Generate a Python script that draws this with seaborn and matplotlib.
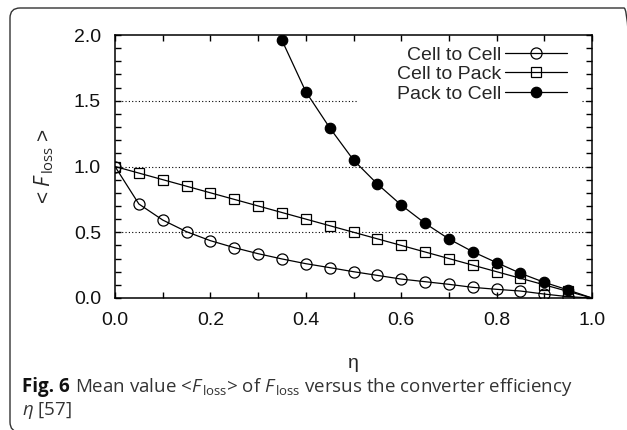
import matplotlib
matplotlib.use("Agg")
import matplotlib.pyplot as plt
from matplotlib.ticker import MultipleLocator, FormatStrFormatter
from matplotlib.patches import FancyBboxPatch
from matplotlib.transforms import IdentityTransform
import seaborn as sns

# efficiency values (last point eta = 1.0 is drawn without marker)
eta = [0.0, 0.05, 0.1, 0.15, 0.2, 0.25, 0.3, 0.35, 0.4, 0.45, 0.5,
       0.55, 0.6, 0.65, 0.7, 0.75, 0.8, 0.85, 0.9, 0.95, 1.0]
cell_to_cell = [1.0, 0.715, 0.593, 0.504, 0.436, 0.383, 0.337, 0.297, 0.261, 0.231, 0.2,
                0.172, 0.144, 0.124, 0.104, 0.081, 0.066, 0.053, 0.03, 0.01, 0.0]
cell_to_pack = [1.0, 0.95, 0.9, 0.85, 0.8, 0.75, 0.7, 0.65, 0.6, 0.55, 0.5,
                0.45, 0.4, 0.35, 0.3, 0.25, 0.2, 0.15, 0.1, 0.05, 0.0]
eta_pc = [0.35, 0.4, 0.45, 0.5, 0.55, 0.6, 0.65, 0.7, 0.75, 0.8, 0.85, 0.9, 0.95, 1.0]
pack_to_cell = [1.96, 1.569, 1.295, 1.049, 0.867, 0.707, 0.568, 0.449, 0.352, 0.269,
                0.188, 0.119, 0.061, 0.0]

labels = ["Cell to Cell", "Cell to Pack", "Pack to Cell"]

sns.set_style("ticks")
plt.rcParams["font.family"] = ["Liberation Sans", "DejaVu Sans"]
plt.rcParams["mathtext.fontset"] = "custom"
plt.rcParams["mathtext.rm"] = "Open Sans"
plt.rcParams["mathtext.it"] = "Open Sans:italic"
plt.rcParams["mathtext.bf"] = "Open Sans:bold"

fig = plt.figure(figsize=(6.27, 4.30), dpi=100)
ax = fig.add_axes([115 / 627, 1 - 298 / 430, 477 / 627, 263 / 430])

# dotted grid lines (1.5 line interrupted by the key box)
dots = dict(color="black", lw=0.8, ls=(0, (1, 2)), zorder=1)
ax.axhline(0.5, **dots)
ax.axhline(1.0, **dots)
ax.axhline(1.5, xmax=0.507, **dots)
ax.axhline(1.5, xmin=0.98, **dots)

common = dict(color="black", lw=0.9, markeredgecolor="black", markeredgewidth=0.9,
              markevery=slice(0, -1), zorder=3)
sns.lineplot(x=eta, y=cell_to_cell, ax=ax, marker="o", markersize=8,
             markerfacecolor="none", label=labels[0], **common)
sns.lineplot(x=eta, y=cell_to_pack, ax=ax, marker="s", markersize=7,
             markerfacecolor="none", label=labels[1], **common)
sns.lineplot(x=eta_pc, y=pack_to_cell, ax=ax, marker="o", markersize=7.5,
             markerfacecolor="black", label=labels[2], **common)

ax.set_xlim(0, 1)
ax.set_ylim(0, 2)
ax.xaxis.set_major_locator(MultipleLocator(0.2))
ax.xaxis.set_minor_locator(MultipleLocator(0.1))
ax.yaxis.set_major_locator(MultipleLocator(0.5))
ax.yaxis.set_minor_locator(MultipleLocator(0.1))
ax.xaxis.set_major_formatter(FormatStrFormatter("%.1f"))
ax.yaxis.set_major_formatter(FormatStrFormatter("%.1f"))
ax.tick_params(which="both", direction="in", top=True, right=True, length=4,
               width=1, color="black", labelsize=14, pad=10, labelcolor="#111111")
for s in ax.spines.values():
    s.set_linewidth(1.1)
    s.set_color("black")
ax.set_xlabel("")
ax.set_ylabel("")

leg = ax.legend(loc="upper right", bbox_to_anchor=(0.968, 0.995), frameon=False,
                markerfirst=False, fontsize=14, handlelength=3.2, handletextpad=0.2,
                labelspacing=0.1, borderpad=0, numpoints=1)

fig.text(44 / 627, 1 - 166 / 430, "< $F_{\\,\\mathrm{loss}}$ >", rotation=90,
         ha="center", va="center", fontsize=15)
fig.text(353 / 627, 1 - 363 / 430, "η", ha="center", va="center", fontsize=14)

# caption: bold figure number followed by regular text
renderer = fig.canvas.get_renderer()
t1 = fig.text(22 / 627, 1 - 392 / 430, "Fig. 6", family="Open Sans", weight="bold",
              fontsize=13.5, va="baseline", color="#111111")
w1 = t1.get_window_extent(renderer).width
fig.text((22 + w1 + 5) / 627, 1 - 392 / 430,
         r"Mean value <$F_{\,\mathrm{loss}}$> of $F_{\,\mathrm{loss}}$ versus the converter efficiency",
         family="Open Sans", fontsize=13.5, va="baseline", color="#333333")
fig.text(22 / 627, 1 - 415 / 430, r"$\eta$ [57]", family="Open Sans", fontsize=13.5,
         va="baseline", color="#333333")

# rounded outer frame
frame = FancyBboxPatch((10, -2), 624, 424, boxstyle="round,pad=0,rounding_size=10",
                       transform=IdentityTransform(), facecolor="none",
                       edgecolor="#333333", lw=1.0)
fig.add_artist(frame)

fig.savefig("out.png", dpi=100)
